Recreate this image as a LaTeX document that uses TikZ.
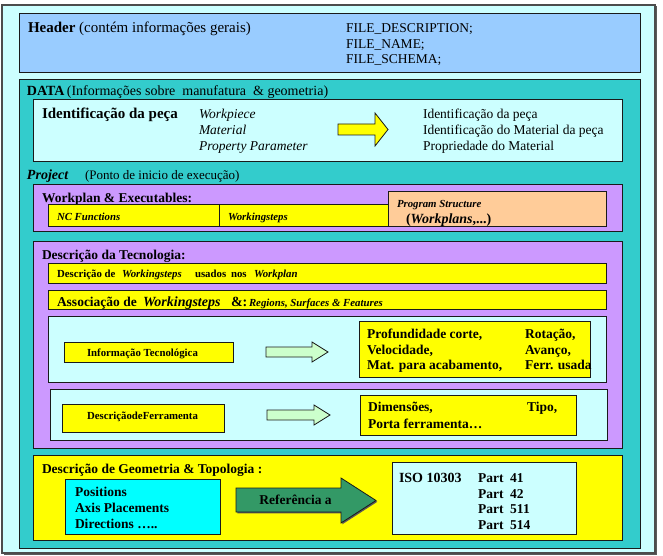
\documentclass[tikz,border=0pt]{standalone}
\usepackage{fontspec}
\setmainfont{Liberation Serif}
\definecolor{paleCyan}{HTML}{CCFFFF}
\definecolor{skyBlue}{HTML}{99CCFF}
\definecolor{tealFill}{HTML}{33CCCC}
\definecolor{lilac}{HTML}{CC99FF}
\definecolor{peach}{HTML}{FFCC99}
\definecolor{lemon}{HTML}{FFFF00}
\definecolor{aqua}{HTML}{00FFFF}
\definecolor{mint}{HTML}{CCFFCC}
\definecolor{forest}{HTML}{339966}
\definecolor{edge}{HTML}{1A1A1A}
\definecolor{shadowgray}{HTML}{5A5A5A}

% filled box with a thin offset shadow
\newcommand\panelbox[5]{%
  \fill[shadowgray] (#1+1.3,#2+1.3) rectangle (#3+1.3,#4+1.3);
  \draw[panel,fill=#5] (#1,#2) rectangle (#3,#4);}

\tikzset{
  panel/.style={draw=edge, line width=0.8pt},
  blockarrow/.style={draw=edge, line width=0.8pt, line join=miter},
  txt/.style={anchor=base west, inner sep=0pt, outer sep=0pt},
  reg/.style={txt, font=\fontsize{13.5}{16}\selectfont},
  regb/.style={txt, font=\fontsize{13.5}{16}\selectfont\bfseries},
  regi/.style={txt, font=\fontsize{13.5}{16}\selectfont\itshape},
  smb/.style={txt, font=\fontsize{10.8}{12}\selectfont\bfseries},
  smbi/.style={txt, font=\fontsize{10.8}{12}\selectfont\bfseries\itshape},
}

\begin{document}
\begin{tikzpicture}[x=1pt,y=-1pt]
\useasboundingbox (0,0) rectangle (663,556);

% outer frame
\fill[shadowgray] (3.5,6.5) rectangle (657,555);
\draw[draw=black!70, line width=1.2pt, fill=paleCyan] (2,5) rectangle (655,553);

% header
\panelbox{19}{13}{640}{72}{skyBlue}
\node[txt, font=\fontsize{15}{17}\selectfont] (hdr) at (28,33) {\textbf{Header} (contém informações gerais)};
\node[reg] (fd) at (346,33) {FILE\_DESCRIPTION;};
\node[reg] (fn) at (346,48.5) {FILE\_NAME;};
\node[reg] (fs) at (346,64) {FILE\_SCHEMA;};

% data
\panelbox{19}{79}{640}{548}{tealFill}
\node[txt, font=\fontsize{14}{16}\selectfont] (data) at (27,96) {\textbf{DATA}\,(Informações sobre\ \ manufatura\ \ \& geometria)};

% part identification
\panelbox{33}{99}{622}{161}{paleCyan}
\node[txt, font=\fontsize{15}{17}\selectfont\bfseries] (idp) at (42,119) {Identificação da peça};
\node[regi] (wp1) at (199,119) {Workpiece};
\node[regi] (wp2) at (199,135) {Material};
\node[regi] (wp3) at (199,151) {Property Parameter};
\draw[blockarrow, fill=lemon] (338,124) -- (375,124) -- (375,113) -- (388,129.5)
  -- (375,146) -- (375,135) -- (338,135) -- cycle;
\node[reg] (id1) at (423,119) {Identificação da peça};
\node[reg] (id2) at (423,135) {Identificação do Material da peça};
\node[reg] (id3) at (423,151) {Propriedade do Material};

% project
\node[txt, font=\fontsize{14}{16}\selectfont\bfseries\itshape] (proj) at (27,179) {Project};
\node[txt, font=\fontsize{13}{16}\selectfont] (projd) at (85,179) {(Ponto de inicio de execução)};

% workplan & executables
\panelbox{33}{184}{622}{231}{lilac}
\node[regb] (wpe) at (42,202) {Workplan \& Executables:};
\panelbox{388}{191}{606}{226}{peach}
\panelbox{48}{204}{388}{226}{lemon}
\draw[panel] (219,204) -- (219,226);
\node[smbi] (ncf) at (57,220) {NC Functions};
\node[smbi] (wks) at (228,220) {Workingsteps};
\node[smbi] (pgs) at (397,207) {Program Structure};
\node[txt, font=\fontsize{14}{16}\selectfont\bfseries] (wpl) at (406,223) {(\textit{Workplans},...)};

% technology description
\panelbox{33}{241}{622}{448}{lilac}
\node[regb] (tec) at (42,259) {Descrição da Tecnologia:};
\panelbox{48}{263}{606}{283}{lemon}
\node[smb] (b1a) at (57,277) {Descrição de};
\node[smbi] (b1b) at (122,277) {Workingsteps};
\node[smb] (b1c) at (195,277) {usados};
\node[smb] (b1d) at (231,277) {nos};
\node[smbi] (b1e) at (254,277) {Workplan};
\panelbox{48}{290}{606}{309}{lemon}
\node[regb] (b2a) at (57,306) {Associação de};
\node[txt, font=\fontsize{14}{16}\selectfont\bfseries\itshape] (b2b) at (143,306) {Workingsteps};
\node[txt, font=\fontsize{14}{16}\selectfont\bfseries] (b2c) at (231,306) {\&:};
\node[smbi] (b2d) at (249,306) {Regions, Surfaces \& Features};

% technological information
\panelbox{48}{316}{606}{382}{paleCyan}
\panelbox{64}{342}{233}{362}{lemon}
\node[smb] (inf) at (87,356) {Informação Tecnológica};
\draw[blockarrow, fill=mint] (266,347) -- (312,347) -- (312,342) -- (328,352)
  -- (312,362) -- (312,357) -- (266,357) -- cycle;
\panelbox{359}{321}{590}{377}{lemon}
\node[regb] (t1) at (367,338) {Profundidade corte,};
\node[regb] (t2) at (367,354) {Velocidade,};
\node[regb] (t3) at (367,369.5) {Mat. para acabamento,};
\node[regb] (t4) at (525,338) {Rotação,};
\node[regb] (t5) at (525,354) {Avanço,};
\node[regb] (t6) at (525,369.5) {Ferr. usada};

% tool description
\panelbox{50}{389}{607}{440}{paleCyan}
\panelbox{62}{404}{224}{432}{lemon}
\node[smb] (fer) at (87,419) {DescriçãodeFerramenta};
\draw[blockarrow, fill=mint] (267,410) -- (314,410) -- (314,405) -- (330,415)
  -- (314,425) -- (314,420) -- (267,420) -- cycle;
\panelbox{360}{395}{576}{435}{lemon}
\node[regb] (f1) at (368,411) {Dimensões,};
\node[regb] (f2) at (527,411) {Tipo,};
\node[regb] (f3) at (368,428) {Porta ferramenta…};

% geometry and topology
\panelbox{33}{455}{622}{540}{lemon}
\node[regb] (geo) at (42,473) {Descrição de Geometria \& Topologia :};
\panelbox{65}{479}{220}{534}{aqua}
\node[regb] (g1) at (75,496) {Positions};
\node[regb] (g2) at (75,512) {Axis Placements};
\node[regb] (g3) at (75,528) {Directions …..};
\fill[shadowgray] (237.3,489.3) -- (342.3,489.3) -- (342.3,479.3) -- (377.3,501.8)
  -- (342.3,524.3) -- (342.3,513.3) -- (237.3,513.3) -- cycle;
\draw[blockarrow, fill=forest] (236,488) -- (341,488) -- (341,478) -- (376,500.5)
  -- (341,523) -- (341,512) -- (236,512) -- cycle;
\node[regb, anchor=base] (ref) at (295.5,504) {Referência a};
\panelbox{392}{462}{576}{534}{paleCyan}
\node[txt, font=\fontsize{14}{16}\selectfont\bfseries] (iso) at (399,482) {ISO 10303};
\node[regb] (p1) at (478,482) {Part\ \ 41};
\node[regb] (p2) at (478,498) {Part\ \ 42};
\node[regb] (p3) at (478,513.5) {Part\ \ 511};
\node[regb] (p4) at (478,529) {Part\ \ 514};
\end{tikzpicture}
\end{document}
